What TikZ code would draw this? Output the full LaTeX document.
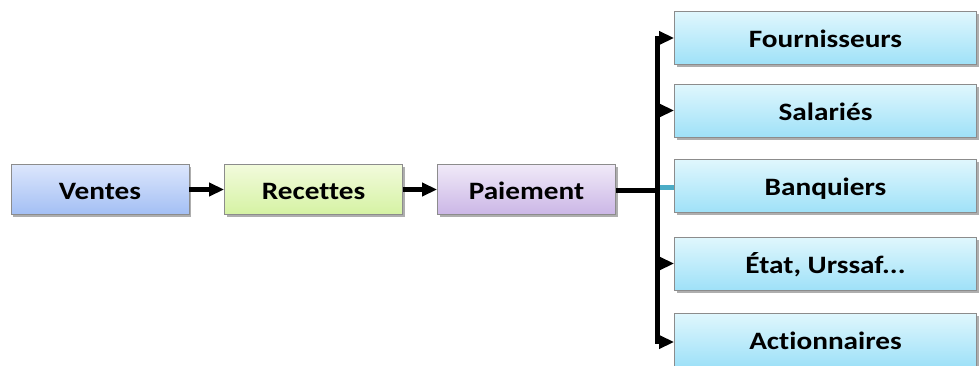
\documentclass[tikz,border=0pt]{standalone}
\usepackage{fontspec}
\setmainfont[FakeStretch=1.17,Ligatures=NoCommon]{Carlito}
\usetikzlibrary{arrows.meta,shadows}
\definecolor{boxborder}{HTML}{8C8C8C}
\definecolor{blueT}{HTML}{DCE6FC}
\definecolor{blueB}{HTML}{A3BFF4}
\definecolor{greenT}{HTML}{F2FBDC}
\definecolor{greenB}{HTML}{D5F2A3}
\definecolor{lavT}{HTML}{F0EAF8}
\definecolor{lavB}{HTML}{CBB6E6}
\definecolor{cyanT}{HTML}{E0F7FD}
\definecolor{cyanB}{HTML}{9FE1F8}
\definecolor{tealline}{HTML}{4BACC6}
\begin{document}
\begin{tikzpicture}[x=1pt,y=1pt,
  box/.style={draw=boxborder, line width=0.8pt, minimum height=50pt,
    minimum width=178pt, inner sep=0pt, text height=19pt, text depth=0pt,
    font=\fontsize{25}{30}\selectfont\bfseries,
    drop shadow={shadow xshift=2pt, shadow yshift=-2.5pt, opacity=0.45, fill=black!70}},
  leftbox/.style={box},
  rightbox/.style={box, minimum width=302pt, minimum height=53pt,
    top color=cyanT, bottom color=cyanB},
  conn/.style={line width=4.5pt, -{Triangle[length=15pt,width=13pt]}},
  plain/.style={line width=4.5pt},
]
\useasboundingbox (0,0) rectangle (979,365);

\node[leftbox, top color=blueT, bottom color=blueB] (ventes) at (100,175.5) {Ventes};
\node[leftbox, top color=greenT, bottom color=greenB] (recettes) at (313.5,175.5) {Recettes};
\node[leftbox, top color=lavT, bottom color=lavB] (paiement) at (526.5,175.5) {Paiement};

\node[rightbox] (fourn) at (825.5,327) {Fournisseurs};
\node[rightbox] (sal) at (825.5,254.5) {Salariés};
\node[rightbox] (banq) at (825.5,179) {Banquiers};
\node[rightbox] (etat) at (825.5,101.5) {État, Urssaf...};
\node[rightbox] (act) at (825.5,25.5) {Actionnaires};

\draw[conn] (ventes) -- (recettes);
\draw[conn] (recettes) -- (paiement);

\coordinate (j) at (657.5,174.5);
\coordinate (jt) at (657.5,177.5);
\coordinate (jtop) at (657.5,327);
\coordinate (jbot) at (657.5,23);

\draw[plain] (paiement.east |- j) -- (j);
\draw[tealline, line width=5pt] (jt) -- (jt -| banq.west);
\draw[plain, line cap=rect] (jtop) -- (jbot);
\draw[conn] (jtop) -- (fourn.west);
\draw[conn] (jtop |- sal.west) -- (sal.west);
\draw[conn] (jtop |- etat.west) -- (etat.west);
\draw[conn] (jbot) -- (jbot -| act.west);
\end{tikzpicture}
\end{document}
